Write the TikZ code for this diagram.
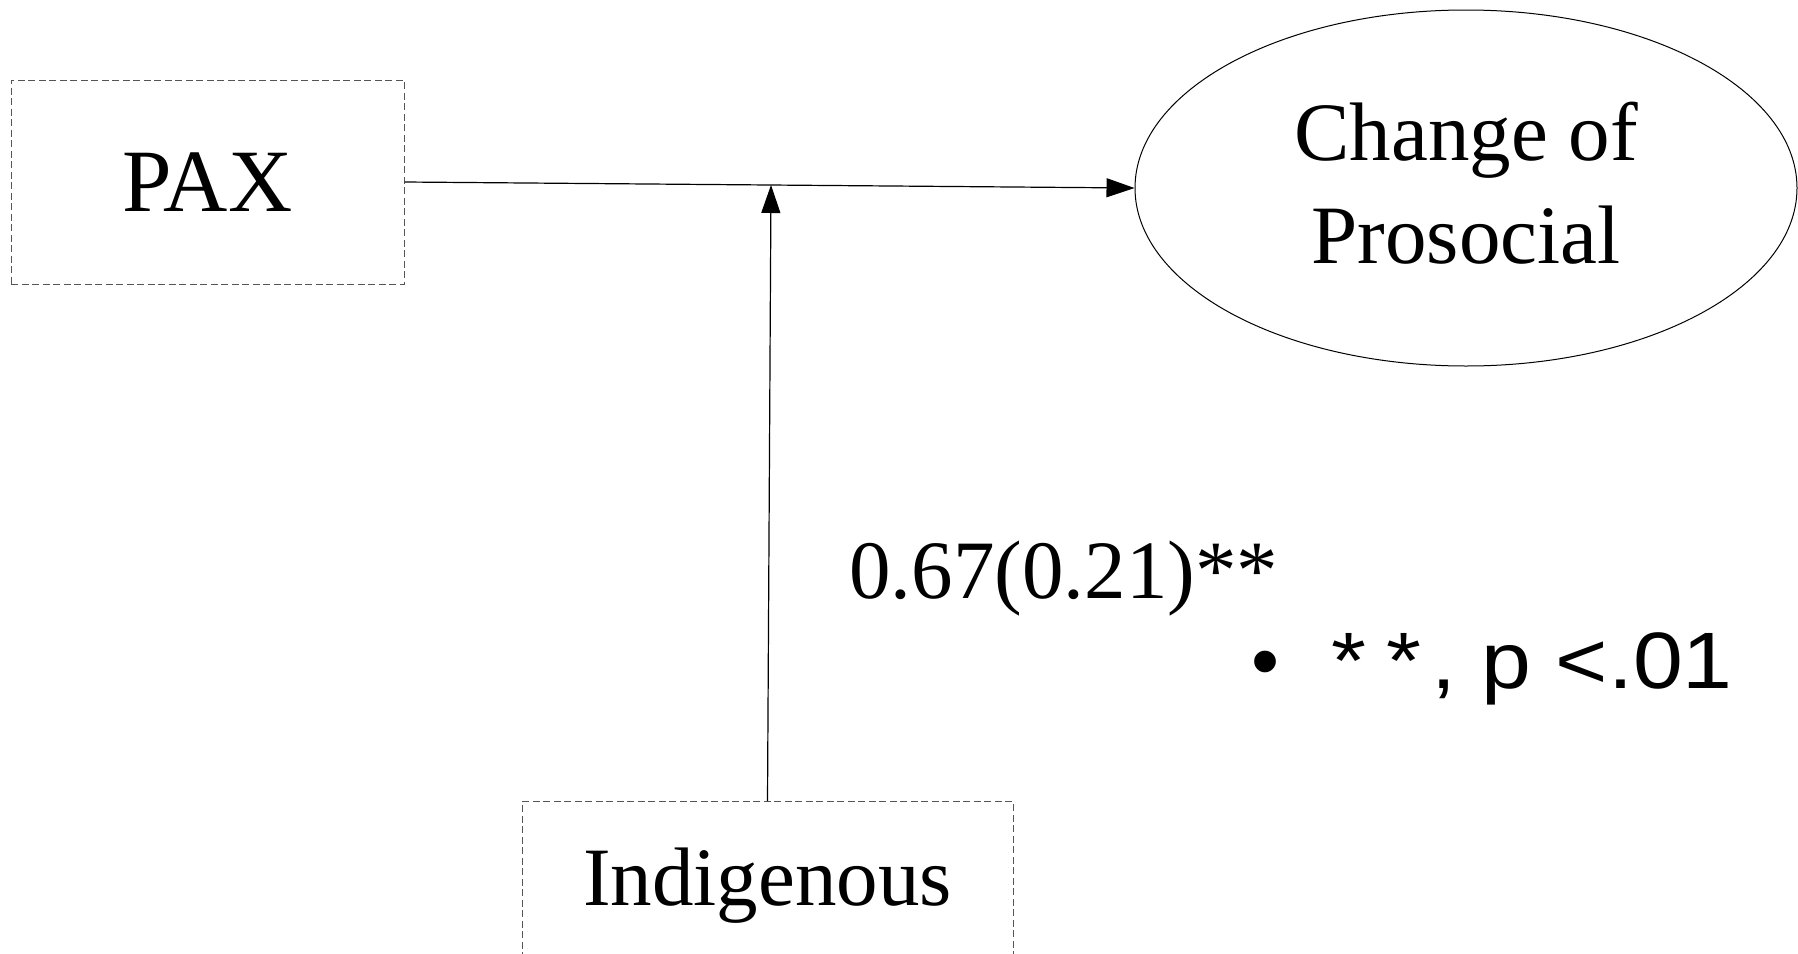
\documentclass[tikz,border=0pt]{standalone}
\usepackage{fontspec}
\setmainfont{Liberation Serif}
\newfontfamily\sansf{Liberation Sans}
\usetikzlibrary{shapes.geometric,arrows.meta}
\definecolor{dashgray}{HTML}{555555}
\begin{document}
\begin{tikzpicture}[x=0.5pt,y=-0.5pt,
  dbox/.style={draw=dashgray, dash pattern=on 3.5pt off 1.75pt, line width=0.5pt, inner sep=0pt},
  conn/.style={draw, line width=0.6pt, -{Triangle[length=14pt,width=9.5pt]}},
  big/.style={font=\fontsize{41.5}{51.5}\selectfont}]
\useasboundingbox (0,0) rectangle (1798,953);
\node[dbox, font=\fontsize{44.5}{51.5}\selectfont, minimum width=196.5pt, minimum height=102pt] (pax) at (207.5,182) {PAX};
\node[ellipse, draw, line width=0.5pt, minimum width=331pt, minimum height=178pt, inner sep=0pt, big, align=center, text depth=5pt] (cp) at (1466,188) {Change of\\Prosocial};
\node[dbox, anchor=north, minimum width=245.5pt, minimum height=90pt] (ind) at (767.5,801) {};
\node[big, anchor=base, inner sep=0pt] (indt) at (767.5,905) {Indigenous};
\coordinate (m) at (771,185);
\draw[conn] (pax.east) -- (cp.west);
\draw[conn] (ind.north) -- (m);
\node[big, anchor=base west, inner sep=0pt] (val) at (849,598) {0.67(0.21)**};
\node[anchor=base west, inner sep=0pt, font=\sansf\fontsize{40}{46}\selectfont] (note) at (1251,688) {•\hspace{26pt}\scalebox{1.12}[1]{*\hspace{9pt}*\hspace{4.5pt}, p <.01}};
\end{tikzpicture}
\end{document}
